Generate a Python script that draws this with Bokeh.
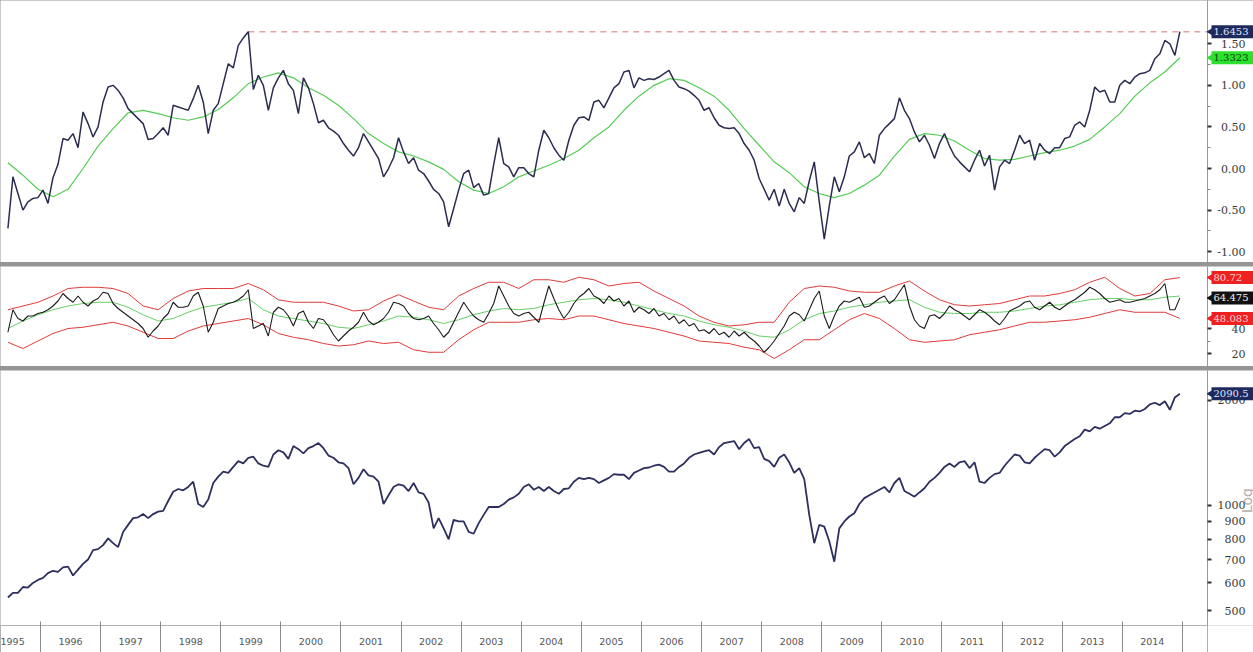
import math
import numpy as np
import pandas as pd
from bokeh.plotting import figure
from bokeh.layouts import column, row
from bokeh.models import (Range1d, FixedTicker, NumeralTickFormatter,
                          CustomJSTickFormatter, ColumnDataSource)
from bokeh.core.properties import value
from bokeh.embed import file_html
from bokeh.resources import INLINE

# ---------------- data ----------------
MONTHS = pd.period_range("1995-06", "2014-12", freq="M")   # monthly samples
YEARS = list(range(1995, 2015))                            # year labels on the time axis

# top panel: spread (black) and its moving average (green, quarterly samples)
TOP_SPREAD = [
    -0.72, -0.10, -0.30, -0.50, -0.40, -0.36, -0.35,
    -0.26, -0.42, -0.11, 0.05, 0.36, 0.34, 0.42, 0.25, 0.68, 0.54, 0.38, 0.50,
    0.80, 0.98, 1.00, 0.94, 0.85, 0.72, 0.66, 0.60, 0.54, 0.35, 0.36, 0.42,
    0.49, 0.40, 0.76, 0.74, 0.72, 0.70, 0.84, 1.00, 0.80, 0.42, 0.70, 0.78,
    1.02, 1.26, 1.21, 1.48, 1.57, 1.6453, 0.95, 1.12, 1.00, 0.70, 0.97, 1.09,
    1.18, 1.02, 0.94, 0.66, 1.09, 0.97, 0.78, 0.55, 0.58, 0.49, 0.45, 0.40,
    0.30, 0.22, 0.15, 0.25, 0.42, 0.32, 0.22, 0.12, -0.10, 0.00, 0.13, 0.37,
    0.20, 0.06, 0.13, -0.02, -0.06, -0.15, -0.25, -0.30, -0.40, -0.70, -0.48, -0.26,
    -0.06, -0.02, -0.23, -0.18, -0.32, -0.30, 0.05, 0.37, 0.06, 0.02, -0.10, 0.01,
    0.01, -0.06, -0.10, 0.22, 0.46, 0.37, 0.25, 0.16, 0.10, 0.34, 0.52, 0.61,
    0.62, 0.58, 0.80, 0.82, 0.73, 0.85, 0.97, 1.02, 1.16, 1.18, 0.97, 1.09,
    1.06, 1.08, 1.07, 1.10, 1.14, 1.18, 1.06, 0.98, 0.96, 0.93, 0.88, 0.82,
    0.70, 0.73, 0.61, 0.52, 0.49, 0.48, 0.49, 0.42, 0.30, 0.22, 0.10, -0.12,
    -0.25, -0.38, -0.25, -0.45, -0.25, -0.42, -0.52, -0.35, -0.42, -0.15, 0.08, -0.40,
    -0.85, -0.45, -0.10, -0.28, -0.10, 0.15, 0.20, 0.32, 0.13, 0.18, 0.06, 0.40,
    0.48, 0.54, 0.60, 0.85, 0.70, 0.60, 0.44, 0.32, 0.40, 0.28, 0.12, 0.30,
    0.42, 0.27, 0.15, 0.08, 0.02, -0.04, 0.10, 0.22, 0.03, 0.16, -0.26, 0.02,
    0.10, 0.06, 0.22, 0.40, 0.30, 0.34, 0.10, 0.30, 0.22, 0.18, 0.25, 0.25,
    0.36, 0.38, 0.52, 0.56, 0.50, 0.70, 0.98, 0.92, 0.94, 0.80, 0.80, 1.00,
    1.06, 1.02, 1.10, 1.14, 1.15, 1.18, 1.32, 1.38, 1.54, 1.50, 1.36, 1.6453,
]
TOP_AVG = [
    0.07, -0.08, -0.25, -0.34, -0.25, 0.00, 0.27, 0.48, 0.67, 0.70,
    0.66, 0.61, 0.58, 0.62, 0.71, 0.85, 1.02, 1.10, 1.15, 1.09,
    0.97, 0.88, 0.76, 0.60, 0.42, 0.30, 0.20, 0.15, 0.08, -0.01,
    -0.16, -0.26, -0.30, -0.22, -0.10, -0.03, 0.04, 0.12, 0.22, 0.37,
    0.50, 0.70, 0.87, 1.00, 1.08, 1.06, 0.97, 0.87, 0.70, 0.48,
    0.28, 0.08, -0.05, -0.22, -0.30, -0.35, -0.30, -0.20, -0.08, 0.15,
    0.35, 0.42, 0.40, 0.33, 0.22, 0.12, 0.10, 0.11, 0.15, 0.19,
    0.22, 0.27, 0.35, 0.50, 0.66, 0.87, 1.03, 1.16, 1.3323,
]

# middle panel: oscillator (black), its average (green) and bands (red); quarterly for the smooth ones
MID_OSC = [
    37, 55, 48, 46, 50, 50, 52,
    53, 55, 58, 62, 68, 64, 61, 66, 61, 58, 62, 64,
    69, 68, 60, 56, 53, 50, 47, 44, 40, 33, 38, 42,
    48, 52, 61, 57, 57, 58, 66, 69, 58, 37, 45, 56,
    58, 60, 61, 63, 66, 71, 40, 42, 44, 34, 53, 57,
    55, 50, 42, 52, 54, 45, 40, 48, 47, 42, 35, 30,
    34, 38, 41, 45, 53, 46, 43, 45, 48, 53, 61, 60,
    58, 52, 48, 47, 48, 50, 44, 39, 33, 37, 45, 53,
    61, 55, 50, 47, 45, 52, 60, 74, 66, 58, 52, 50,
    52, 53, 49, 45, 60, 74, 64, 55, 48, 53, 60, 65,
    68, 72, 66, 64, 60, 66, 62, 64, 58, 62, 53, 57,
    55, 52, 56, 50, 52, 47, 50, 44, 47, 42, 44, 38,
    39, 36, 40, 35, 37, 33, 38, 34, 37, 33, 30, 26,
    21, 25, 30, 36, 42, 50, 53, 51, 46, 55, 64, 70,
    50, 40, 50, 58, 62, 61, 63, 65, 57, 58, 61, 64,
    66, 60, 63, 69, 75, 58, 47, 42, 40, 50, 51, 48,
    52, 58, 55, 53, 50, 47, 51, 55, 53, 50, 46, 43,
    48, 54, 56, 58, 61, 62, 57, 55, 58, 61, 57, 55,
    58, 61, 63, 66, 69, 73, 71, 68, 64, 61, 62, 63,
    61, 61, 62, 63, 64, 66, 68, 71, 76, 55, 55, 64.475,
]
MID_AVG = [
    40, 46, 51, 55, 58, 60, 61, 61, 57, 51, 46, 48, 53, 57, 59, 61, 64, 55, 50, 48,
    46, 44, 41, 40, 43, 46, 50, 49, 47, 44, 47, 51, 54, 56, 55, 56, 59, 61, 63, 64,
    63, 61, 58, 55, 52, 50, 46, 43, 41, 38, 34, 33, 39, 47, 52, 54, 57, 59, 61, 62,
    63, 57, 53, 52, 52, 53, 53, 54, 56, 58, 59, 61, 63, 64, 64, 63, 63, 65, 66,
]
MID_UPPER = [
    55, 58, 61, 66, 72, 73, 73, 72, 68, 58, 55, 64, 70, 72, 72, 72, 76, 71, 63, 61,
    61, 61, 58, 54, 55, 62, 67, 62, 57, 55, 66, 72, 77, 77, 72, 79, 79, 77, 81, 79,
    74, 76, 77, 70, 64, 58, 50, 45, 42, 43, 45, 45, 61, 72, 74, 73, 70, 69, 69, 74,
    78, 70, 63, 59, 58, 59, 60, 63, 66, 66, 68, 71, 77, 81, 72, 66, 68, 79, 80.72,
]
MID_LOWER = [
    29, 24, 30, 36, 40, 41, 43, 45, 42, 37, 32, 32, 38, 42, 44, 46, 48, 43, 36, 33,
    31, 28, 26, 27, 30, 28, 29, 23, 21, 21, 31, 39, 45, 45, 45, 47, 48, 47, 50, 50,
    47, 44, 42, 40, 37, 34, 30, 29, 28, 25, 23, 16, 23, 31, 31, 39, 47, 52, 48, 40,
    31, 29, 30, 31, 35, 37, 39, 42, 45, 45, 46, 47, 49, 52, 55, 53, 53, 53, 48.083,
]

# bottom panel: index level (log scale)
INDEX_LEVEL = [
    545, 562, 562, 584, 582, 600, 612,
    620, 640, 650, 645, 665, 668, 630, 655, 680, 700, 745, 750,
    770, 805, 780, 760, 840, 880, 920, 925, 945, 920, 945, 960,
    965, 1030, 1095, 1115, 1105, 1130, 1170, 1010, 990, 1040, 1160, 1210,
    1250, 1240, 1290, 1340, 1320, 1370, 1380, 1320, 1300, 1290, 1400, 1440,
    1420, 1360, 1480, 1450, 1410, 1460, 1480, 1510, 1460, 1390, 1370, 1330,
    1320, 1280, 1150, 1200, 1270, 1220, 1210, 1170, 1010, 1070, 1130, 1150,
    1140, 1100, 1160, 1090, 1080, 1020, 860, 920, 860, 800, 910, 900,
    900, 840, 830, 890, 940, 990, 990, 990, 1010, 1040, 1055, 1080,
    1130, 1150, 1110, 1130, 1100, 1130, 1100, 1080, 1115, 1120, 1170, 1200,
    1190, 1200, 1190, 1160, 1180, 1200, 1230, 1225, 1225, 1190, 1240, 1260,
    1280, 1285, 1300, 1310, 1290, 1250, 1250, 1290, 1320, 1370, 1400, 1415,
    1430, 1440, 1400, 1470, 1510, 1520, 1530, 1450, 1510, 1550, 1460, 1470,
    1360, 1340, 1290, 1370, 1400, 1330, 1240, 1280, 1190, 940, 780, 880,
    870, 790, 690, 860, 900, 930, 950, 1010, 1050, 1070, 1090, 1110,
    1130, 1090, 1160, 1200, 1100, 1080, 1060, 1090, 1120, 1170, 1200, 1240,
    1290, 1320, 1290, 1330, 1340, 1280, 1330, 1170, 1160, 1200, 1230, 1240,
    1300, 1350, 1400, 1390, 1330, 1320, 1370, 1410, 1450, 1440, 1380, 1420,
    1480, 1515, 1550, 1580, 1650, 1630, 1680, 1660, 1690, 1720, 1790, 1790,
    1840, 1830, 1870, 1860, 1890, 1950, 1970, 1940, 1990, 1880, 2040, 2090.5,
]

# last-value flags shown at the right edge
TOP_FLAGS = ["1.6453", "1.3323"]
MID_FLAGS = ["80.72", "64.475", "48.083"]
BOTTOM_FLAGS = ["2090.5"]

# ---------------- time coordinates ----------------
t_month = np.array(MONTHS.year + (MONTHS.month - 0.5) / 12.0, dtype=float)
t_quarter = t_month[::3]


def tx(arr, grid):
    return grid[:len(arr)]


xr = Range1d(1995.335, 2015.418)

MAIN_W = 1207
SIDE_W = 46
AXIS_COLOR = "#9a9a9a"
LABEL_FONT = "DejaVu Serif"


def main_fig(frame_h, y_range, y_type="linear", bottom=False):
    p = figure(frame_width=MAIN_W, frame_height=frame_h, x_range=xr, y_range=y_range,
               y_axis_type=y_type, y_axis_location=None,
               x_axis_location="below" if bottom else None,
               toolbar_location=None, output_backend="svg",
               min_border_left=0, min_border_right=0, min_border_top=0,
               min_border_bottom=27 if bottom else 0)
    p.outline_line_color = None
    p.grid.visible = False
    return p


def side_fig(frame_h, y_range, ticks, minor, fmt, y_type="linear", bottom=False):
    s = figure(frame_width=SIDE_W, frame_height=frame_h, x_range=Range1d(0, SIDE_W),
               y_range=y_range, y_axis_type=y_type, y_axis_location="left",
               x_axis_location=None, toolbar_location=None, output_backend="svg",
               min_border_left=0, min_border_right=0, min_border_top=0,
               min_border_bottom=27 if bottom else 0)
    s.outline_line_color = None
    s.grid.visible = False
    ya = s.yaxis[0]
    ya.ticker = FixedTicker(ticks=ticks, minor_ticks=minor)
    ya.formatter = NumeralTickFormatter(format=fmt)
    ya.axis_line_color = AXIS_COLOR
    ya.major_tick_line_color = "#333333"
    ya.major_tick_line_width = 2
    ya.major_tick_in = 4
    ya.major_tick_out = 0
    ya.minor_tick_line_color = "#888888"
    ya.minor_tick_in = 3
    ya.minor_tick_out = 0
    ya.major_label_text_font = LABEL_FONT
    ya.major_label_text_font_size = "11px"
    ya.major_label_text_color = "#3a3a3a"
    ya.major_label_standoff = -38
    return s


def add_flags(s, values, texts, fills, colors):
    src = ColumnDataSource(dict(y=values, text=texts, fill=fills, color=colors))
    s.rect(x=25, y="y", width=42, height=13, height_units="screen",
           fill_color="fill", line_color=None, source=src, level="overlay")
    s.scatter(x=5, y="y", marker="triangle", size=11, angle=math.pi / 2,
              fill_color="fill", line_color=None, source=src, level="overlay")
    s.text(x=6, y="y", text="text", text_color="color", text_baseline="middle",
           text_align="left", text_font=value(LABEL_FONT), text_font_size="10px",
           source=src, level="overlay")


# ---------------- top panel ----------------
top_range = Range1d(-1.13, 2.02)
p1 = main_fig(262, top_range)
peak_i = int(np.argmax(TOP_SPREAD))
p1.ray(x=[t_month[peak_i]], y=[TOP_SPREAD[peak_i]], length=0, angle=0,
       line_color="#e2a3a3", line_width=1.5, line_dash="6 5")
p1.line(tx(TOP_AVG, t_quarter), TOP_AVG, line_color="#55cc55", line_width=1.2)
p1.line(tx(TOP_SPREAD, t_month), TOP_SPREAD, line_color="#2b2d50", line_width=1.5)
s1 = side_fig(262, top_range, [-1.0, -0.5, 0.0, 0.5, 1.0, 1.5],
              [-0.75, -0.25, 0.25, 0.75, 1.25], "0.00")
add_flags(s1, [TOP_SPREAD[-1], TOP_AVG[-1]], TOP_FLAGS,
          ["#1f2a5c", "#2ee02e"], ["#dfe6ff", "#0b3b0b"])

# ---------------- middle panel ----------------
mid_range = Range1d(9.6, 89.6)
p2 = main_fig(100, mid_range)
p2.line(tx(MID_UPPER, t_quarter), MID_UPPER, line_color="#e03a3a", line_width=1)
p2.line(tx(MID_LOWER, t_quarter), MID_LOWER, line_color="#e03a3a", line_width=1)
p2.line(tx(MID_AVG, t_quarter), MID_AVG, line_color="#66d066", line_width=1)
p2.line(tx(MID_OSC, t_month), MID_OSC, line_color="#1b1b1b", line_width=1.1)
s2 = side_fig(100, mid_range, [20, 40], [30], "0")
add_flags(s2, [MID_UPPER[-1], MID_OSC[-1], MID_LOWER[-1]], MID_FLAGS,
          ["#ee2020", "#111111", "#ee2020"], ["#ffd6d6", "#f0f0f0", "#ffd6d6"])

# ---------------- bottom panel ----------------
bot_range = Range1d(453, 2437)
p3 = main_fig(255, bot_range, y_type="log", bottom=True)
p3.line(tx(INDEX_LEVEL, t_month), INDEX_LEVEL, line_color="#2d2f5e", line_width=1.8)
s3 = side_fig(255, bot_range, [500, 600, 700, 800, 900, 1000, 2000], [], "0",
              y_type="log", bottom=True)
add_flags(s3, [INDEX_LEVEL[-1]], BOTTOM_FLAGS, ["#1f2a5c"], ["#dfe6ff"])
s3.text(x=[39], y=[1033], text=["Log"], angle=math.pi / 2, text_color="#b0b0b0",
        text_font=value("DejaVu Sans"), text_font_size="14px",
        text_align="center", text_baseline="middle")

xa = p3.xaxis[0]
xa.ticker = FixedTicker(ticks=[y + 0.5 for y in YEARS],
                        minor_ticks=[y + 1 for y in YEARS])
xa.formatter = CustomJSTickFormatter(code="return String(Math.floor(tick));")
xa.axis_line_color = "#b0b0b0"
xa.major_tick_line_color = None
xa.major_tick_in = 0
xa.major_tick_out = 0
xa.minor_tick_line_color = "#8a8a8a"
xa.minor_tick_in = 4
xa.minor_tick_out = 27
xa.major_label_standoff = -15
xa.major_label_text_font = "DejaVu Sans"
xa.major_label_text_font_size = "9.5px"
xa.major_label_text_color = "#555555"

layout = column(row(p1, s1), row(p2, s2), row(p3, s3), spacing=4,
                styles={"background-color": "#959595"})

open("out.html", "w").write(file_html(layout, INLINE))
